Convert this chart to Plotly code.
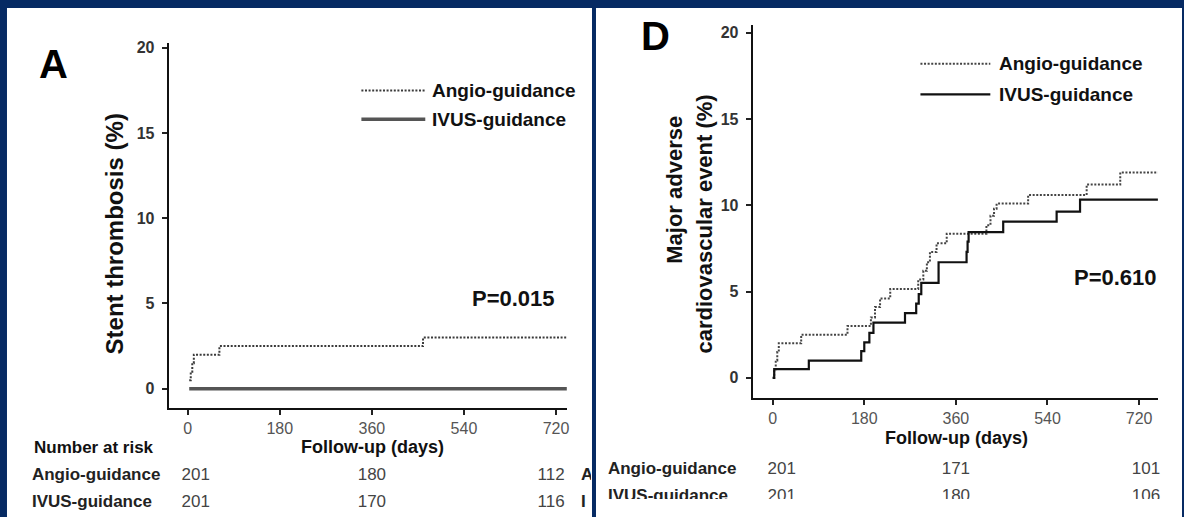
import plotly.graph_objects as go

W, H = 1184, 517
NAVY = "#062a63"
FONT = "Liberation Sans, Arial, sans-serif"

# ---------------- data ----------------
x_ticks = [0, 180, 360, 540, 720]
y_ticks = [0, 5, 10, 15, 20]
group_names = ["Angio-guidance", "IVUS-guidance"]

# Panel A: stent thrombosis (%)
a_angio_days = [3, 6, 9, 12, 62, 460, 741]
a_angio_pct = [0.5, 1.0, 1.5, 2.0, 2.5, 3.0, 3.0]
a_ivus_days = [3, 741]
a_ivus_pct = [0.0, 0.0]
a_p_text = "P=0.015"

# Panel D: major adverse cardiovascular event (%)
d_angio_days = [0, 3, 6, 9, 12, 56, 147, 193, 201, 211, 231, 286, 296, 303, 309,
                322, 342, 420, 428, 435, 440, 502, 617, 683, 757]
d_angio_pct = [0.0, 0.5, 1.0, 1.5, 2.0, 2.5, 3.0, 3.5, 4.1, 4.6, 5.15, 5.7, 6.2, 6.7, 7.3,
               7.8, 8.35, 8.85, 9.4, 9.8, 10.1, 10.6, 11.2, 11.9, 11.9]
d_ivus_days = [0, 3, 71, 174, 180, 190, 198, 260, 282, 287, 292, 326, 381, 383, 385,
               453, 558, 604, 757]
d_ivus_pct = [0.0, 0.5, 1.0, 1.55, 2.05, 2.6, 3.2, 3.75, 4.3, 4.85, 5.5, 6.7, 7.3, 7.9, 8.45,
              9.06, 9.64, 10.33, 10.33]
d_p_text = "P=0.610"

# Number at risk
risk_days = [0, 360, 720]
a_risk_angio = [201, 180, 112]
a_risk_ivus = [201, 170, 116]
d_risk_angio = [201, 171, 101]
d_risk_ivus = [201, 180, 106]

# ---------------- layout helpers (pixel calibration) ----------------
def fx(px):
    return px / W


def fy(py):
    return 1 - py / H


PA = dict(x0=188, xs=(557 - 188) / 720, xl=169, xr=568, y0=388, ys=(388 - 45) / 20, yt=40, yb=407)
PD = dict(x0=774, xs=(1141 - 774) / 720, xl=754, xr=1160, y0=377, ys=(377 - 30) / 20, yt=22, yb=397)

fig = go.Figure()


def axis_cfg(p):
    xa = dict(domain=[fx(p["xl"]), fx(p["xr"])],
              range=[(p["xl"] - p["x0"]) / p["xs"], (p["xr"] - p["x0"]) / p["xs"]],
              tickvals=x_ticks, ticks="outside", ticklen=5, tickwidth=2, tickcolor="#222",
              showline=True, linecolor="#111", linewidth=2, showgrid=False, zeroline=False,
              tickfont=dict(family=FONT, size=16, color="#555"), fixedrange=True)
    ya = dict(domain=[fy(p["yb"]), fy(p["yt"])],
              range=[-(p["yb"] - p["y0"]) / p["ys"], (p["y0"] - p["yt"]) / p["ys"]],
              tickvals=y_ticks, ticks="outside", ticklen=5, tickwidth=2, tickcolor="#222",
              showline=True, linecolor="#111", linewidth=2, showgrid=False, zeroline=False,
              tickfont=dict(family=FONT, size=16, color="#333", weight="bold"),
              ticklabelstandoff=4, fixedrange=True)
    return xa, ya


xa1, ya1 = axis_cfg(PA)
xa2, ya2 = axis_cfg(PD)
ya1["anchor"] = "x"; xa1["anchor"] = "y"
ya2["anchor"] = "x2"; xa2["anchor"] = "y2"

DOT = "2px,1.6px"

fig.add_trace(go.Scatter(x=a_angio_days, y=a_angio_pct, mode="lines", line_shape="hv",
                         line=dict(color="#3a3a3a", width=2, dash=DOT), xaxis="x", yaxis="y",
                         showlegend=False, hoverinfo="skip"))
fig.add_trace(go.Scatter(x=a_ivus_days, y=a_ivus_pct, mode="lines", line_shape="hv",
                         line=dict(color="#555555", width=3.5), xaxis="x", yaxis="y",
                         showlegend=False, hoverinfo="skip"))
fig.add_trace(go.Scatter(x=d_angio_days, y=d_angio_pct, mode="lines", line_shape="hv",
                         line=dict(color="#444444", width=2, dash=DOT), xaxis="x2", yaxis="y2",
                         showlegend=False, hoverinfo="skip"))
fig.add_trace(go.Scatter(x=d_ivus_days, y=d_ivus_pct, mode="lines", line_shape="hv",
                         line=dict(color="#111111", width=2.2), xaxis="x2", yaxis="y2",
                         showlegend=False, hoverinfo="skip"))

# ---------------- number-at-risk tables (clipped by their own subplot) ----------------
def table_axes(p, left_px, right_px, top_px, bottom_px):
    xa = dict(domain=[fx(left_px), fx(right_px)],
              range=[(left_px - p["x0"]) / p["xs"], (right_px - p["x0"]) / p["xs"]],
              visible=False, fixedrange=True)
    ya = dict(domain=[fy(bottom_px), fy(top_px)], range=[bottom_px, top_px],
              visible=False, fixedrange=True)
    return xa, ya


xa3, ya3 = table_axes(PA, 7, 592, 427, 517)
xa4, ya4 = table_axes(PD, 597, 1184, 427, 499)
xa3["anchor"] = "y3"; ya3["anchor"] = "x3"
xa4["anchor"] = "y4"; ya4["anchor"] = "x4"


def add_table(p, xref, yref, label_px, rows_y, risk_rows, col_shift_px, trailing_px=None):
    label_day = (label_px - p["x0"]) / p["xs"]
    fig.add_trace(go.Scatter(x=[label_day] * len(group_names), y=rows_y, mode="text",
                             text=["<b>%s</b>" % t for t in group_names], textposition="middle right",
                             textfont=dict(family=FONT, size=17, color="#222"),
                             xaxis=xref, yaxis=yref, cliponaxis=True, showlegend=False,
                             hoverinfo="skip"))
    xs = [d + s / p["xs"] for d, s in zip(risk_days, col_shift_px)]
    for row_y, vals in zip(rows_y, risk_rows):
        fig.add_trace(go.Scatter(x=xs, y=[row_y] * len(vals), mode="text",
                                 text=[str(v) for v in vals], textposition="middle center",
                                 textfont=dict(family=FONT, size=17, color="#444"),
                                 xaxis=xref, yaxis=yref, cliponaxis=True, showlegend=False,
                                 hoverinfo="skip"))
    if trailing_px is not None:
        tday = (trailing_px - p["x0"]) / p["xs"]
        fig.add_trace(go.Scatter(x=[tday] * len(group_names), y=rows_y, mode="text",
                                 text=["<b>%s</b>" % t[0] for t in group_names],
                                 textposition="middle right",
                                 textfont=dict(family=FONT, size=17, color="#222"),
                                 xaxis=xref, yaxis=yref, cliponaxis=True, showlegend=False,
                                 hoverinfo="skip"))


add_table(PA, "x3", "y3", 32, [476, 503], [a_risk_angio, a_risk_ivus], [8, 0, -5], trailing_px=582)
add_table(PD, "x4", "y4", 609, [469, 497], [d_risk_angio, d_risk_ivus], [9, 0, 7])

# ---------------- shapes: panels and legend samples ----------------
shapes = [
    dict(type="rect", xref="paper", yref="paper", x0=fx(7), x1=fx(593), y0=0, y1=fy(5),
         fillcolor="white", line=dict(width=0), layer="below"),
    dict(type="rect", xref="paper", yref="paper", x0=fx(597), x1=1, y0=0, y1=fy(5),
         fillcolor="white", line=dict(width=0), layer="below"),
    dict(type="line", xref="paper", yref="paper", x0=fx(362), x1=fx(426), y0=fy(88), y1=fy(88),
         line=dict(color="#3a3a3a", width=2, dash=DOT)),
    dict(type="line", xref="paper", yref="paper", x0=fx(362), x1=fx(426), y0=fy(117), y1=fy(117),
         line=dict(color="#555555", width=3.5)),
    dict(type="line", xref="paper", yref="paper", x0=fx(922), x1=fx(992), y0=fy(61), y1=fy(61),
         line=dict(color="#444444", width=2, dash=DOT)),
    dict(type="line", xref="paper", yref="paper", x0=fx(922), x1=fx(992), y0=fy(92), y1=fy(92),
         line=dict(color="#111111", width=2.2)),
]


def ann(text, px, py, size, bold=True, color="#111", angle=0, xanchor="center", yanchor="middle"):
    return dict(text=("<b>%s</b>" % text) if bold else text, x=fx(px), y=fy(py),
                xref="paper", yref="paper", showarrow=False, textangle=angle,
                xanchor=xanchor, yanchor=yanchor,
                font=dict(family=FONT, size=size, color=color))


annotations = [
    ann("A", 54, 61, 40, color="#000"),
    ann("D", 657, 33, 40, color="#000"),
    ann("Stent thrombosis (%)", 115, 232, 24, angle=-90),
    ann("Major adverse", 676, 188, 22, angle=-90),
    ann("cardiovascular event (%)", 706, 222, 22, angle=-90),
    ann(group_names[0], 431, 88, 19, xanchor="left"),
    ann(group_names[1], 431, 117, 19, xanchor="left"),
    ann(group_names[0], 999, 61, 19, xanchor="left"),
    ann(group_names[1], 999, 92, 19, xanchor="left"),
    ann(a_p_text, 514, 297, 22),
    ann(d_p_text, 1117, 276, 22),
    ann("Follow-up (days)", 373, 447, 18),
    ann("Follow-up (days)", 958, 438, 18),
    ann("Number at risk", 32, 447, 17, xanchor="left"),
]

fig.update_layout(
    width=W, height=H, margin=dict(l=0, r=0, t=0, b=0),
    paper_bgcolor=NAVY, plot_bgcolor="rgba(0,0,0,0)",
    xaxis=xa1, yaxis=ya1, xaxis2=xa2, yaxis2=ya2,
    xaxis3=xa3, yaxis3=ya3, xaxis4=xa4, yaxis4=ya4,
    shapes=shapes, annotations=annotations, showlegend=False,
    font=dict(family=FONT),
)

fig.write_html("out.html", config={"displayModeBar": False, "staticPlot": True})
